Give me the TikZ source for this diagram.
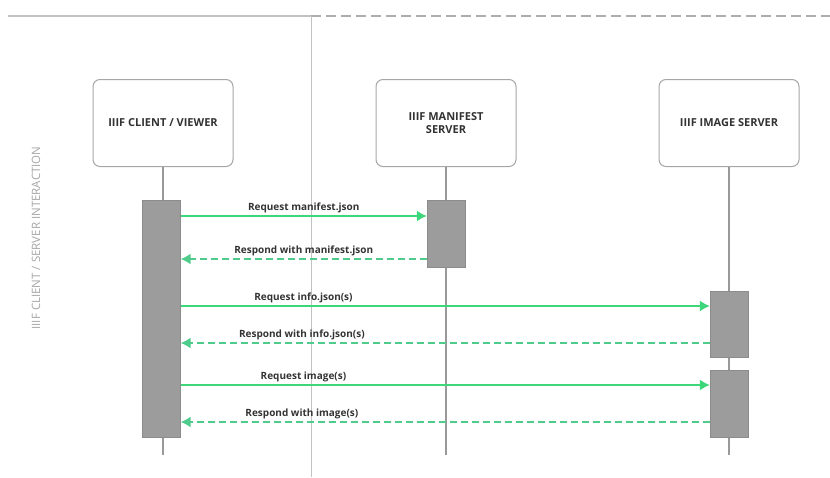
\documentclass[tikz,border=0pt]{standalone}
\usepackage{fontspec}
\setmainfont{Open Sans}
\usetikzlibrary{arrows.meta,positioning}

\definecolor{reqgreen}{HTML}{3DD67A}
\definecolor{respgreen}{HTML}{4FCB8C}
\definecolor{bargray}{HTML}{9C9C9C}
\definecolor{linegray}{HTML}{999999}
\definecolor{boxgray}{HTML}{A6A6A6}

\begin{document}
\begin{tikzpicture}[>={Latex[length=10pt,width=11pt]},x=1pt,y=-1pt,node distance=283pt,
        actor/.style={draw=boxgray,line width=1pt,rounded corners=7pt,fill=white,
          minimum width=140pt,minimum height=87pt,align=center,
          font=\bfseries\fontsize{11}{12.5}\selectfont,text=black!80},
        bar/.style={draw=black!45,fill=bargray,minimum width=38pt,inner sep=0pt,anchor=north},
        life/.style={draw=linegray,line width=1.4pt},
        req/.style={draw=reqgreen,line width=1.6pt},
        resp/.style={draw=respgreen,line width=1.6pt,dash pattern=on 7pt off 4pt},
        lbl/.style={above,inner sep=2pt,font=\bfseries\fontsize{10}{11}\selectfont,text=black!80}]

  \useasboundingbox (0,0) rectangle (830,477);

  % frame of the page
  \draw[linegray!60,line width=1.2pt] (8,16) -- (311,16);
  \draw[linegray!80,line width=1.2pt,dash pattern=on 10pt off 5pt] (311,16) -- (830,16);
  \draw[linegray!60,line width=0.7pt] (311,16) -- (311,477);

  \node[rotate=90,font=\fontsize{11.5}{13}\selectfont,text=black!35] (title) at (36,238)
        {IIIF CLIENT / SERVER INTERACTION};

  \node[actor] (client) at (163,123) {IIIF CLIENT / VIEWER};
  \node[actor] (manifest) [right of=client] {IIIF MANIFEST\\SERVER};
  \node[actor] (image) [right of=manifest] {IIIF IMAGE SERVER};

  \coordinate (top) at (0,200);
  \coordinate (bottom) at (0,455);
  \foreach \n/\y in {r1/216,r2/259,r3/306,r4/343,r5/385,r6/422,t3/291,t5/370}
    \coordinate (\n) at (0,\y);

  % life lines
  \draw[life] (client.south) -- (client.south |- bottom);
  \draw[life] (manifest.south) -- (manifest.south |- bottom);
  \draw[life] (image.south) -- (image.south |- bottom);

  \node[bar,minimum height=237pt,xshift=-1.5pt] (clientbar) at (client.south |- top) {};
  \node[bar,minimum height=67pt] (manifestbar) at (manifest.south |- top) {};
  \node[bar,minimum height=66pt] (imagebar1) at (image.south |- t3) {};
  \node[bar,minimum height=67pt] (imagebar2) at (image.south |- t5) {};

  \path[->] (clientbar.east |- r1) edge[req] node[lbl] {Request manifest.json} (manifestbar.west |- r1)
        (manifestbar.west |- r2) edge[resp] node[lbl] {Respond with manifest.json} (clientbar.east |- r2)
        (clientbar.east |- r3) edge[req] node[lbl,pos=0.232] {Request info.json(s)} (imagebar1.west |- r3)
        (imagebar1.west |- r4) edge[resp] node[lbl,pos=0.771] {Respond with info.json(s)} (clientbar.east |- r4)
        (clientbar.east |- r5) edge[req] node[lbl,pos=0.232] {Request image(s)} (imagebar2.west |- r5)
        (imagebar2.west |- r6) edge[resp] node[lbl,pos=0.771] {Respond with image(s)} (clientbar.east |- r6);

\end{tikzpicture}
\end{document}
